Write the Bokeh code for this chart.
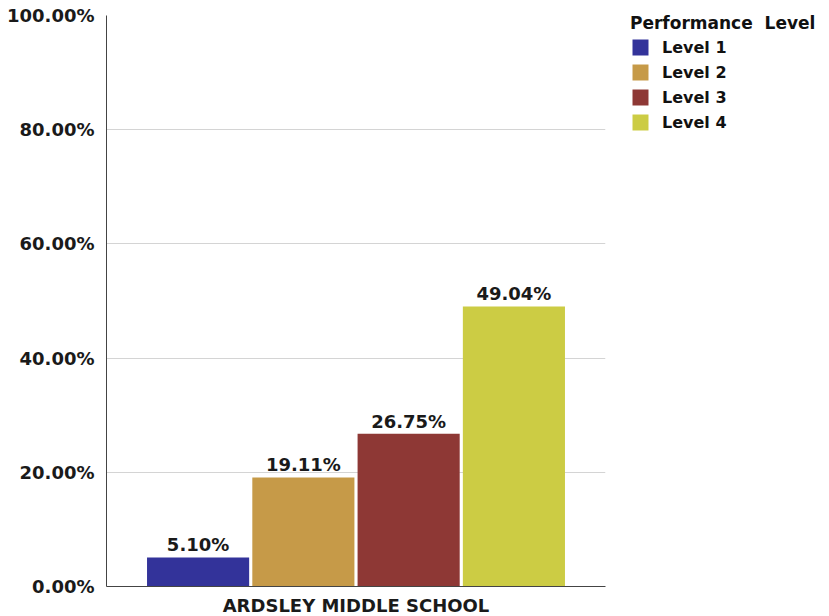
from bokeh.plotting import figure
from bokeh.models import ColumnDataSource, FactorRange, Legend, LegendItem, PrintfTickFormatter, FixedTicker
from bokeh.embed import file_html
from bokeh.resources import INLINE

school = "ARDSLEY MIDDLE SCHOOL"
levels = ["Level 1", "Level 2", "Level 3", "Level 4"]
values = [5.10, 19.11, 26.75, 49.04]
colors = ["#33339a", "#c69a48", "#8e3835", "#cccc44"]
y_ticks = [0, 20, 40, 60, 80, 100]

FONT = "DejaVu Sans"

src = ColumnDataSource(dict(
    level=levels, value=values, color=colors,
    label=[f"{v:.2f}%" for v in values],
))

p = figure(
    x_range=FactorRange(*levels, range_padding=0.185),
    y_range=(0, 100),
    frame_width=499, frame_height=571,
    min_border_left=106, min_border_top=15, min_border_bottom=22, min_border_right=40,
    output_backend="svg", toolbar_location=None,
)
p.outline_line_color = None
p.background_fill_color = "white"

r = p.vbar(x="level", top="value", width=0.97, fill_color="color", line_color=None, source=src)

p.text(x="level", y="value", text="label", source=src, y_offset=-2,
       text_align="center", text_baseline="bottom",
       text_font={"value": FONT}, text_font_style="bold", text_font_size="18px", text_color="#1a1a1a")

# y axis
p.yaxis.ticker = FixedTicker(ticks=y_ticks)
p.yaxis.formatter = PrintfTickFormatter(format="%.2f%%")
p.yaxis.major_tick_line_color = None
p.yaxis.minor_tick_line_color = None
p.yaxis.axis_line_color = "#444444"
p.yaxis.major_label_text_font = FONT
p.yaxis.major_label_text_font_style = "bold"
p.yaxis.major_label_text_font_size = "18px"
p.yaxis.major_label_text_color = "#1a1a1a"
p.yaxis.major_label_standoff = 6

# x axis
p.xaxis.major_label_text_font_size = "0px"
p.xaxis.major_tick_line_color = None
p.xaxis.minor_tick_line_color = None
p.xaxis.axis_line_color = "#444444"
p.xaxis.axis_label = school
p.xaxis.axis_label_text_font = FONT
p.xaxis.axis_label_text_font_style = "bold"
p.xaxis.axis_label_text_font_size = "18px"
p.xaxis.axis_label_text_color = "#1a1a1a"
p.xaxis.axis_label_standoff = 2

p.xgrid.grid_line_color = None
p.ygrid.grid_line_color = "#d4d4d4"
p.ygrid.grid_line_width = 1

items = [LegendItem(label=lv, renderers=[r], index=i) for i, lv in enumerate(levels)]
legend = Legend(items=items, location=(25, 454), title="Performance  Level",
                margin=0, padding=0, border_line_color=None, background_fill_alpha=0,
                glyph_width=20, glyph_height=20, label_height=20, spacing=5,
                label_standoff=12, title_standoff=4)
legend.title_text_font = FONT
legend.title_text_font_style = "bold"
legend.title_text_font_size = "17px"
legend.title_text_color = "#111111"
legend.label_text_font = FONT
legend.label_text_font_style = "bold"
legend.label_text_font_size = "16px"
legend.label_text_color = "#111111"
p.add_layout(legend, "right")

open("out.html", "w").write(file_html(p, INLINE))
